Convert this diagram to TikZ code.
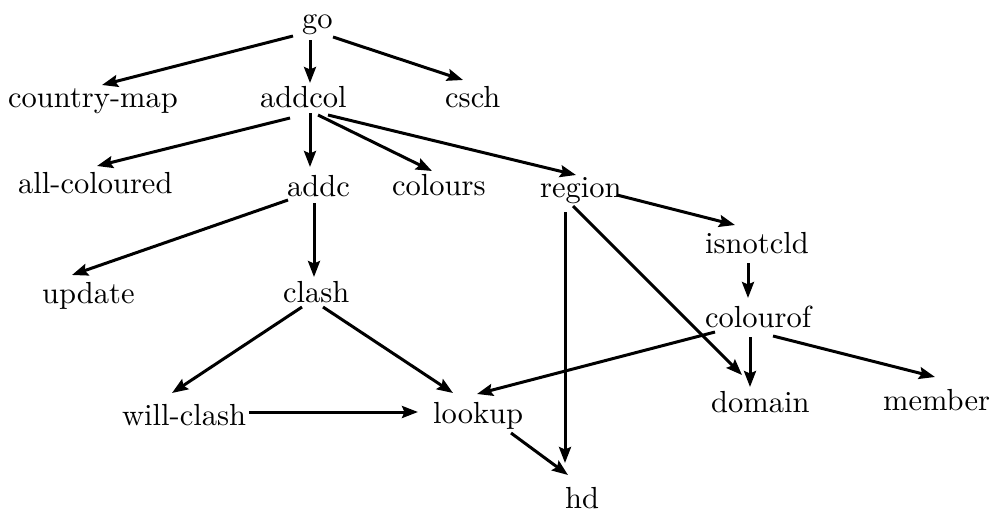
\documentclass[tikz,border=0pt]{standalone}
\usetikzlibrary{arrows.meta}
\begin{document}
\begin{tikzpicture}[x=1pt,y=-1pt,
  lbl/.style={anchor=base west, inner sep=0pt, font=\fontsize{10}{12}\selectfont},
  arr/.style={line width=3pt, -{Stealth[length=16pt,width=12pt,inset=2.5pt]}}]
\newcommand\bigtxt[1]{\scalebox{3.05}{#1}}
\useasboundingbox (0,0) rectangle (991,512);
\node[lbl] (go) at (302,28) {\bigtxt{go}};
\node[lbl] (cmap) at (8,107) {\bigtxt{country-map}};
\node[lbl] (addcol) at (260,107) {\bigtxt{addcol}};
\node[lbl] (csch) at (445,107) {\bigtxt{csch}};
\node[lbl] (allc) at (18,193) {\bigtxt{all-coloured}};
\node[lbl] (addc) at (287,196) {\bigtxt{addc}};
\node[lbl] (colours) at (392,195) {\bigtxt{colours}};
\node[lbl] (region) at (540,197) {\bigtxt{region}};
\node[lbl] (isnot) at (705,253) {\bigtxt{isnotcld}};
\node[lbl] (update) at (42,303) {\bigtxt{update}};
\node[lbl] (clash) at (283,302) {\bigtxt{clash}};
\node[lbl] (colourof) at (705,327) {\bigtxt{colourof}};
\node[lbl] (willc) at (122,425) {\bigtxt{will-clash}};
\node[lbl] (lookup) at (433,423) {\bigtxt{lookup}};
\node[lbl] (domain) at (711,412) {\bigtxt{domain}};
\node[lbl] (member) at (883,410) {\bigtxt{member}};
\node[lbl] (hd) at (565,508) {\bigtxt{hd}};
\draw[arr] ([shift={(-9,8)}]go.base west) -- ([shift={(94,-22)}]cmap.base west);
\draw[arr] ([shift={(8,12)}]go.base west) -- ([shift={(50,-24)}]addcol.base west);
\draw[arr] ([shift={(31,9)}]go.base west) -- ([shift={(18,-27)}]csch.base west);
\draw[arr] ([shift={(30,11)}]addcol.base west) -- ([shift={(79,-27)}]allc.base west);
\draw[arr] ([shift={(50,6)}]addcol.base west) -- ([shift={(23,-29)}]addc.base west);
\draw[arr] ([shift={(58,8)}]addcol.base west) -- ([shift={(40,-24)}]colours.base west);
\draw[arr] ([shift={(68,8)}]addcol.base west) -- ([shift={(36,-22)}]region.base west);
\draw[arr] ([shift={(77,-2)}]region.base west) -- ([shift={(30,-28)}]isnot.base west);
\draw[arr] ([shift={(25,15)}]region.base west) -- ([shift={(0,-45)}]hd.base west);
\draw[arr] ([shift={(33,9)}]region.base west) -- ([shift={(31,-37)}]domain.base west);
\draw[arr] ([shift={(43,10)}]isnot.base west) -- ([shift={(43,-29)}]colourof.base west);
\draw[arr] ([shift={(10,5)}]colourof.base west) -- ([shift={(44,-29)}]lookup.base west);
\draw[arr] ([shift={(45,10)}]colourof.base west) -- ([shift={(39,-25)}]domain.base west);
\draw[arr] ([shift={(68,9)}]colourof.base west) -- ([shift={(52,-33)}]member.base west);
\draw[arr] ([shift={(78,10)}]lookup.base west) -- ([shift={(3,-33)}]hd.base west);
\draw[arr] ([shift={(1,4)}]addc.base west) -- ([shift={(30,-28)}]update.base west);
\draw[arr] ([shift={(27,7)}]addc.base west) -- ([shift={(31,-25)}]clash.base west);
\draw[arr] ([shift={(19,5)}]clash.base west) -- ([shift={(50,-32)}]willc.base west);
\draw[arr] ([shift={(40,5)}]clash.base west) -- ([shift={(20,-30)}]lookup.base west);
\draw[arr] ([shift={(127,-13)}]willc.base west) -- ([shift={(-15,-11)}]lookup.base west);
\end{tikzpicture}
\end{document}
